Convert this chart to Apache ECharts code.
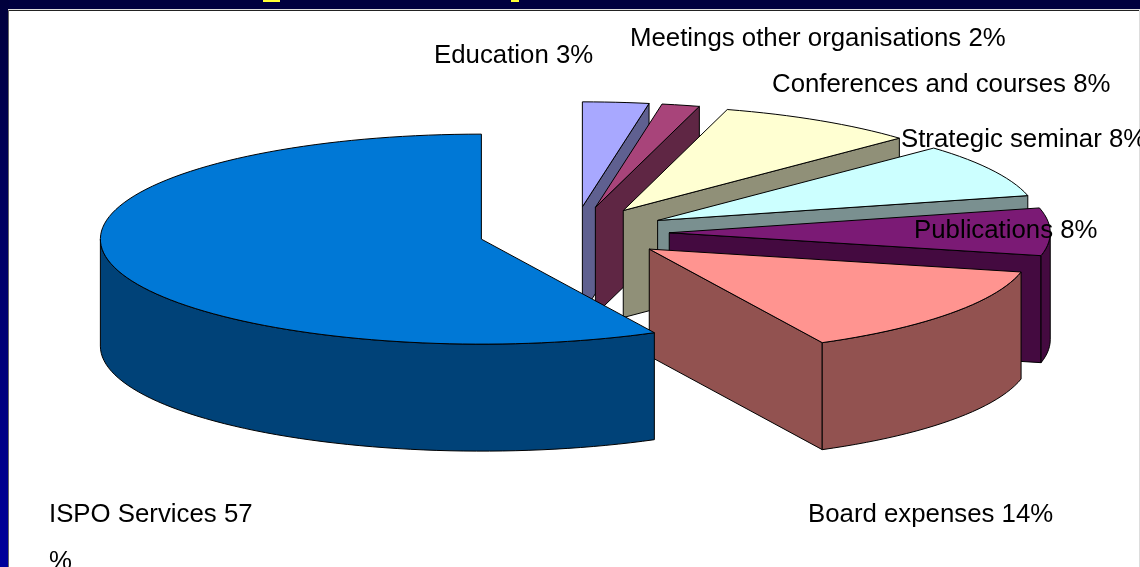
<!DOCTYPE html>
<html>
<head>
<meta charset="utf-8">
<style>
html,body{margin:0;padding:0;background:#000040;}
#main{width:1140px;height:567px;}
</style>
<script src="https://cdn.jsdelivr.net/npm/echarts@6/dist/echarts.min.js"></script>
</head>
<body>
<div id="main"></div>
<script>
// clockwise from 12 o'clock
var categories = ['Education','Meetings other organisations','Conferences and courses','Strategic seminar','Publications','Board expenses','ISPO Services'];
var labelPercents = [3,2,8,8,8,14,57];
// slice sizes as measured on the picture (the printed labels are rounded)
var sliceValues = [2.8,1.6,8.5,8.3,7.3,14,57.5];

var topColors = ['#a8a8ff','#a8447a','#ffffd2','#ccffff','#7b1a75','#ff9490','#0078d6'];
var wallColors = ['#5f6090','#5f2644','#909078','#7a9090','#440a40','#925250','#004278'];
var labelAnchors = [[434,32],[630,15],[772,61],[901,116],[914,207],[808,491],[49,491]];

var cx = 574, cy = 233, rx = 381, ry = 105, depth = 107, explode = 0.25;

var pieChart = echarts.init(document.getElementById('main'));

var sliceData = [];
var sum = 0, total = 0;
for(var i=0;i<sliceValues.length;i++){
	total += sliceValues[i];
}
for(var i=0;i<sliceValues.length;i++){
	sliceData.push([sliceValues[i],sum/total*360,(sum+sliceValues[i])/total*360]);
	sum += sliceValues[i];
}

function rad(a){
	return a*Math.PI/180;
}
function rim(ox,oy,a){
	return [ox+rx*Math.sin(rad(a)),oy-ry*Math.cos(rad(a))];
}
function drop(p){
	return [p[0],p[1]+depth];
}
function poly(points,fill){
	return {
		type:'polygon',
		shape:{points:points},
		style:{fill:fill,stroke:'#000',lineWidth:1,lineJoin:'round'}
	};
}
function arc(ox,oy,a0,a1){
	var pts = [];
	var n = Math.max(2,Math.ceil((a1-a0)/2));
	for(var k=0;k<=n;k++){
		pts.push(rim(ox,oy,a0+(a1-a0)*k/n));
	}
	return pts;
}
function renderSlice(params,api){
	var i = params.dataIndex;
	var a0 = api.value(1), a1 = api.value(2);
	var mid = (a0+a1)/2;
	var ox = cx+explode*rx*Math.sin(rad(mid));
	var oy = cy-explode*ry*Math.cos(rad(mid));
	var apex = [ox,oy];
	var kids = [];
	// cut faces, only those turned to the viewer
	if(Math.sin(rad(a0))<0){
		var p0 = rim(ox,oy,a0);
		kids.push(poly([apex,p0,drop(p0),drop(apex)],wallColors[i]));
	}
	if(Math.sin(rad(a1))>0.001){
		var p1 = rim(ox,oy,a1);
		kids.push(poly([apex,p1,drop(p1),drop(apex)],wallColors[i]));
	}
	// outer wall, front half of the rim
	var w0 = Math.max(a0,90), w1 = Math.min(a1,270);
	if(w1>w0){
		var upper = arc(ox,oy,w0,w1);
		var lower = upper.map(drop).reverse();
		kids.push(poly(upper.concat(lower),wallColors[i]));
	}
	kids.push(poly([apex].concat(arc(ox,oy,a0,a1)),topColors[i]));
	return {type:'group',children:kids};
}
function renderLabel(params,api){
	var i = params.dataIndex;
	var text = categories[i]+' '+labelPercents[i]+'%';
	if(i==6){
		text = categories[i]+' '+labelPercents[i]+'\n%';
	}
	return {
		type:'text',
		x:labelAnchors[i][0],
		y:labelAnchors[i][1],
		style:{
			text:text,
			fill:'#000',
			font:'25.8px "Liberation Sans"',
			lineHeight:47,
			verticalAlign:'top'
		}
	};
}

var option = {
	animation:false,
	backgroundColor:'#000040',
	graphic:[
		{type:'rect',z:0,shape:{x:0,y:0,width:9,height:567},
			style:{fill:new echarts.graphic.LinearGradient(0,0,0,1,[{offset:0,color:'#00003c'},{offset:1,color:'#00009c'}])}},
		{type:'rect',z:0,shape:{x:8,y:10,width:1132,height:557},style:{fill:'#fff'}},
		{type:'rect',z:0,shape:{x:8,y:10,width:1132,height:1},style:{fill:'#222'}},
		{type:'rect',z:0,shape:{x:8,y:9,width:1132,height:1},style:{fill:'#ddd'}},
		{type:'rect',z:0,shape:{x:8,y:10,width:1,height:557},style:{fill:'#666'}},
		{type:'rect',z:0,shape:{x:1139,y:10,width:1,height:557},style:{fill:'#ddd'}},
		{type:'rect',z:0,shape:{x:263,y:0,width:17,height:2},style:{fill:'#ffff33'}},
		{type:'rect',z:0,shape:{x:511,y:0,width:8,height:2},style:{fill:'#ffff33'}}
	],
	series:[
		{
			type:'custom',
			coordinateSystem:'none',
			z:2,
			silent:true,
			data:sliceData,
			renderItem:renderSlice
		},
		{
			type:'custom',
			coordinateSystem:'none',
			z:3,
			silent:true,
			data:sliceValues,
			renderItem:renderLabel
		}
	]
};
pieChart.setOption(option);
</script>
</body>
</html>
